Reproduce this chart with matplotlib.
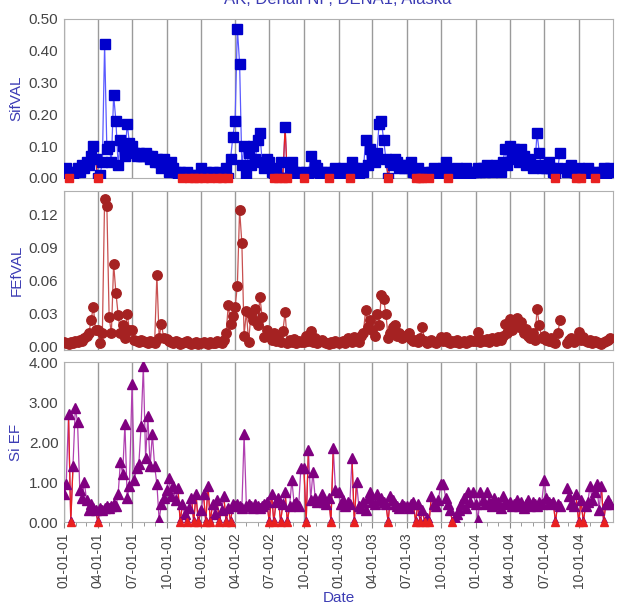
import numpy as np
import pandas as pd
import matplotlib
matplotlib.use("Agg")
import matplotlib.pyplot as plt
import matplotlib.dates as mdates

plt.rcParams['font.family'] = ['Liberation Sans', 'DejaVu Sans']

nan = np.nan

# quarter starts, 15 samples (every 6 days) per quarter
quarters = ["2001-01-01", "2001-04-01", "2001-07-01", "2001-10-01",
            "2002-01-01", "2002-04-01", "2002-07-01", "2002-10-01",
            "2003-01-01", "2003-04-01", "2003-07-01", "2003-10-01",
            "2004-01-01", "2004-04-01", "2004-07-01", "2004-10-01"]

sifval = [
    0.02, 0.03, 0, 0.02, 0.01, 0.02, 0.03, 0.02, 0.04, 0.03, 0.05, 0.04, 0.07, 0.10, 0.06,
    0, 0.01, 0.05, 0.42, 0.09, 0.10, 0.05, 0.26, 0.18, 0.04, 0.12, 0.10, 0.07, 0.17, 0.11,
    0.10, 0.08, 0.07, 0.08, 0.07, 0.07, 0.08, 0.07, 0.06, 0.07, 0.05, 0.06, 0.05, 0.03, 0.06,
    0.04, 0.02, 0.05, 0.03, 0.02, 0.01, 0.02, 0, 0.01, 0.02, 0, 0.01, 0, 0.01, 0,
    0.03, 0, 0.02, 0.01, 0, 0.02, 0.01, 0, 0.02, 0, 0.01, 0.03, 0, 0.06, 0.13,
    0.18, 0.47, 0.36, 0.04, 0.10, 0.01, 0.08, 0.04, 0.10, 0.06, 0.12, 0.14, 0.05, 0.03, 0.06,
    0.05, 0.02, 0, 0.03, 0, 0.05, 0, 0.16, 0, 0.02, 0.05, 0.02, 0.01, 0.02, 0.01,
    0, 0.02, 0.01, 0.07, 0.02, 0.04, 0.03, 0.01, 0.02, 0.01, 0.02, 0, 0.01, 0.02, 0.03,
    0.02, 0.01, 0.03, 0.02, 0.01, 0, 0.05, 0.03, 0.02, 0.01, 0.03, 0.02, 0.12, 0.04, 0.09,
    0.07, 0.05, 0.08, 0.17, 0.18, 0.12, 0.06, 0, 0.05, 0.04, 0.06, 0.05, 0.03, 0.04, 0.03,
    0.04, 0.03, 0.05, 0.02, 0, 0.03, 0, 0, 0.02, 0.01, 0, 0.02, 0.03, 0.02, 0.01,
    0.02, 0.03, 0.05, 0, 0.02, 0.01, 0.02, 0.03, 0.01, 0.02, 0.02, 0.03, 0.02, 0.01, 0.02,
    0.02, 0.03, 0.02, 0.03, 0.02, 0.04, 0.03, 0.02, 0.03, 0.04, 0.03, 0.02, 0.05, 0.09, 0.04,
    0.10, 0.06, 0.09, 0.08, 0.05, 0.09, 0.07, 0.04, 0.06, 0.05, 0.03, 0.04, 0.14, 0.08, 0.03,
    0.04, 0.03, 0.05, 0.03, 0.02, 0, 0.03, 0.08, nan, nan, 0.02, 0.03, 0.04, 0.02, 0,
    0.03, 0, 0.02, 0.01, 0.03, 0.02, 0.01, 0, 0.02, 0.01, 0.02, 0.03, 0.01, 0.02, 0.03,
]

fefval = [
    0.004, 0.003, 0.002, 0.004, 0.003, 0.005, 0.004, 0.006, 0.005, 0.008, 0.010, 0.012, 0.024, 0.036, 0.015,
    0.015, 0.003, 0.012, 0.134, 0.127, 0.027, 0.012, 0.075, 0.049, 0.029, 0.012, 0.020, 0.008, 0.030, 0.015,
    0.015, 0.006, 0.005, 0.004, 0.006, 0.005, 0.004, 0.003, 0.005, 0.004, 0.003, 0.065, 0.008, 0.021, 0.008,
    0.007, 0.005, 0.004, 0.003, 0.005, 0.004, 0.002, 0.003, 0.004, 0.005, 0.003, 0.002, 0.003, 0.004, 0.002,
    0.003, 0.004, 0.003, 0.002, 0.004, 0.003, 0.003, 0.005, 0.004, 0.003, 0.006, 0.012, 0.038, 0.021, 0.028,
    0.036, 0.055, 0.124, 0.094, 0.010, 0.032, 0.004, 0.030, 0.024, 0.034, 0.020, 0.045, 0.027, 0.009, 0.015,
    0.010, 0.006, 0.012, 0.005, 0.008, 0.004, 0.014, 0.031, 0.003, 0.006, 0.004, 0.007, 0.003, 0.005, 0.004,
    0.004, 0.010, 0.005, 0.014, 0.004, 0.008, 0.003, 0.005, 0.006, 0.004, 0.003, 0.002, 0.004, 0.003, 0.005,
    0.003, 0.004, 0.005, 0.003, 0.008, 0.005, 0.004, 0.009, 0.006, 0.004, 0.010, 0.012, 0.033, 0.018, 0.024,
    0.015, 0.010, 0.030, 0.020, 0.047, 0.043, 0.030, 0.008, 0.012, 0.018, 0.020, 0.010, 0.012, 0.008, 0.010,
    0.010, 0.012, 0.007, 0.005, 0.006, 0.004, 0.008, 0.018, 0.005, 0.003, 0.004, 0.006, 0.004, 0.003, 0.005,
    0.009, 0.005, 0.009, 0.004, 0.003, 0.005, 0.004, 0.006, 0.003, 0.004, 0.005, 0.003, 0.004, 0.006, 0.005,
    0.005, 0.013, 0.004, 0.006, 0.005, 0.007, 0.004, 0.008, 0.006, 0.005, 0.009, 0.006, 0.010, 0.021, 0.012,
    0.025, 0.015, 0.022, 0.026, 0.018, 0.022, 0.012, 0.016, 0.010, 0.008, 0.012, 0.006, 0.034, 0.020, 0.008,
    0.010, 0.006, 0.005, 0.008, 0.004, 0.003, 0.012, 0.024, nan, nan, 0.003, 0.006, 0.008, 0.004, 0.006,
    0.013, 0.006, 0.009, 0.005, 0.004, 0.006, 0.003, 0.005, 0.004, 0.003, 0.002, 0.004, 0.005, 0.006, 0.008,
]

si_ef = [
    0.7, 0.95, 2.7, 0, 1.4, 2.85, 2.5, 0.8, 0.6, 1.0, 0.55, 0.3, 0.45, 0.35, 0.3,
    0, 0.35, 0.3, 0.35, 0.4, 0.35, 0.4, 0.45, 0.4, 0.7, 1.5, 1.2, 2.45, 0.6, 0.9,
    3.45, 1.05, 1.35, 1.45, 2.4, 3.9, 1.6, 2.65, 1.4, 2.2, 1.4, 0.95, 0.05, 0.45, 0.6,
    0.8, 1.1, 0.65, 0.9, 0.55, 0.85, 0, 0.45, 0.2, 0, 0.35, 0.6, 0, 0.7, 0,
    0.3, 0.7, 0, 0.9, 0, 0.45, 0.2, 0.55, 0, 0.3, 0.65, 0, 0.35, 0, 0.45,
    0.4, 0.45, 0.4, 0.35, 2.2, 0.4, 0.45, 0.4, 0.35, 0.45, 0.4, 0.35, 0.4, 0.45, 0.5,
    0, 0.7, 0, 0.5, 0.6, 0, 0.45, 0.75, 0, 0.4, 1.05, 0.45, 0.5, 0.4, 1.35,
    1.35, 0, 1.8, 0.55, 1.25, 0.6, 0.5, 0.55, 0.7, 0.5, 0.45, 0.6, 0, 1.85, 0.8,
    0.75, 0.45, 0.55, 0.4, 0.5, 0.45, 1.6, 0, 1.0, 0.4, 0.35, 0.5, 0.3, 0.6, 0.75,
    0.5, 0.45, 0.7, 0.55, 0.6, 0.5, 0.45, 0, 0.65, 0.55, 0.45, 0.4, 0.35, 0.45, 0.4,
    0.4, 0.35, 0.45, 0.5, 0, 0.45, 0, 0.3, 0, 0.1, 0, 0.65, 0.45, 0.4, 0.55,
    0.95, 0.95, 0.6, 0.45, 0.3, 0, 0.1, 0.2, 0.3, 0.45, 0.6, 0.35, 0.75, 0.5, 0.75,
    0.45, 0.05, 0.75, 0.55, 0.45, 0.75, 0.5, 0.4, 0.6, 0.45, 0.5, 0.35, 0.65, 0.5, 0.45,
    0.5, 0.4, 0.45, 0.55, 0.4, 0.5, 0.35, 0.45, 0.55, 0.4, 0.5, 0.45, 0.4, 0.5, 0.45,
    1.05, 0.6, 0.5, 0.45, 0.5, 0, 0.45, 0.4, nan, nan, 0.85, 0.65, 0.45, 0.4, 0.7,
    0, 0.55, 0, 0.4, 0.5, 0.9, 0.55, 0.75, 0.95, 0.3, 0.9, 0, 0.45, 0.55, 0.45,
]

dates = pd.DatetimeIndex(np.concatenate(
    [pd.date_range(q, periods=15, freq="6D").values for q in quarters]))

label_col = "#3c3cb4"
tick_col = "#444444"
grid_col = "#9a9a9a"
zero_col = "#e82020"

fig = plt.figure(figsize=(6.18, 6.10), dpi=100)
left, width = 64 / 618, 549 / 618
ax1 = fig.add_axes([left, 1 - 178 / 610, width, 159 / 610])
ax2 = fig.add_axes([left, 1 - 350 / 610, width, 159 / 610])
ax3 = fig.add_axes([left, 1 - 522 / 610, width, 160 / 610])

panels = [
    (ax1, sifval, "SifVAL", "s", "#0000cc", "#5a5aff", (0, 0.5), [0, 0.1, 0.2, 0.3, 0.4, 0.5]),
    (ax2, fefval, "FEfVAL", "o", "#a52222", "#c85050", (-0.003, 0.141), [0, 0.03, 0.06, 0.09, 0.12]),
    (ax3, si_ef, "Si EF", "^", "#800080", "#b040b0", (0, 4.0), [0, 1, 2, 3, 4]),
]

for ax, vals, name, mk, mcol, lcol, ylim, yt in panels:
    y = np.array(vals, dtype=float)
    ax.plot(dates, y, color=lcol, lw=0.9, zorder=2)
    ax.plot(dates, y, ls="none", marker=mk, ms=6.8, color=mcol, zorder=3)
    zi = np.where(y == 0)[0]
    for i in zi:
        a, b = max(i - 1, 0), min(i + 2, len(y))
        ax.plot(dates[a:b], y[a:b], color=zero_col, lw=0.9, zorder=2.5)
    ax.plot(dates[zi], y[zi], ls="none", marker=mk, ms=6, color=zero_col, zorder=3.5, clip_on=False)

    ax.set_xlim(pd.Timestamp("2001-01-01"), pd.Timestamp("2004-12-31"))
    ax.set_ylim(*ylim)
    ax.set_yticks(yt)
    ax.yaxis.set_major_formatter(plt.FormatStrFormatter("%.2f"))
    ax.set_ylabel(name, color=label_col, fontsize=11, labelpad=4)
    ax.tick_params(axis="y", length=0, labelsize=11, labelcolor=tick_col, pad=4)
    ax.xaxis.set_major_locator(mdates.MonthLocator(bymonth=[1, 4, 7, 10]))
    ax.xaxis.set_minor_locator(mdates.MonthLocator())
    ax.xaxis.set_major_formatter(mdates.DateFormatter("%m-%d-%y"))
    ax.grid(axis="x", which="major", color=grid_col, lw=1)
    ax.set_axisbelow(True)
    for s in ax.spines.values():
        s.set_color("#b0b0b0")

for ax in (ax1, ax2):
    ax.tick_params(axis="x", which="both", length=0, labelbottom=False)

ax3.tick_params(axis="x", which="major", length=4, color="#888888", labelsize=10,
                labelcolor=tick_col, labelrotation=90)
ax3.tick_params(axis="x", which="minor", length=3, color="#888888")
ax3.set_xlabel("Date", color=label_col, fontsize=11, labelpad=2)

fig.text(338 / 618, 1.0, "AK, Denali NP, DENA1, Alaska", color=label_col,
         fontsize=12, ha="center", va="center")

fig.savefig("out.png", dpi=100)
